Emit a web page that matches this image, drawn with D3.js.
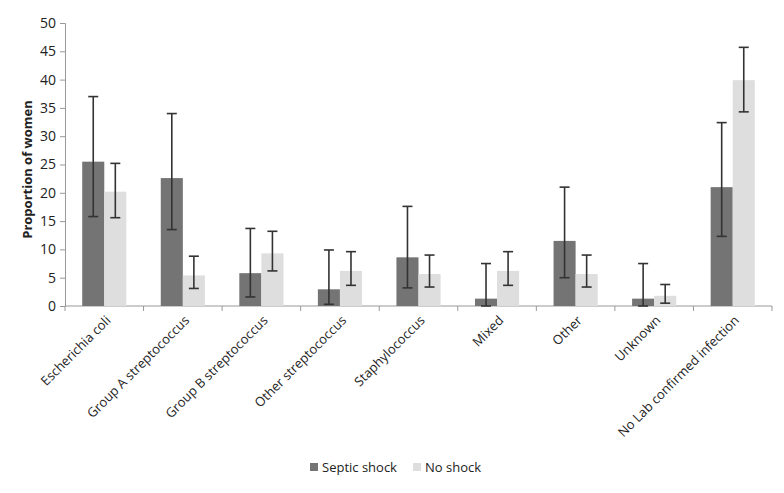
<!DOCTYPE html>
<html>
<head>
<meta charset="utf-8">
<script src="https://cdn.jsdelivr.net/npm/d3@7"></script>
<style>
body { margin: 0; background: #fff; }
text { font-family: "Open Sans", "Liberation Sans", sans-serif; fill: #222; }
</style>
</head>
<body>
<div id="chart"></div>
<script>
// categories and values
var categories = ["Escherichia coli", "Group A streptococcus", "Group B streptococcus",
  "Other streptococcus", "Staphylococcus", "Mixed", "Other", "Unknown", "No Lab confirmed infection"]
var septic = [25.5, 22.6, 5.8, 2.95, 8.6, 1.3, 11.5, 1.3, 21.0]
var septicLow = [15.8, 13.5, 1.6, 0.3, 3.2, 0, 5.0, 0, 12.3]
var septicHigh = [37.0, 34.0, 13.7, 9.9, 17.6, 7.5, 21.0, 7.5, 32.4]
var noShock = [20.2, 5.4, 9.3, 6.2, 5.65, 6.2, 5.65, 1.8, 39.9]
var noShockLow = [15.6, 3.1, 6.2, 3.65, 3.35, 3.65, 3.35, 0.5, 34.3]
var noShockHigh = [25.2, 8.8, 13.2, 9.6, 9.0, 9.6, 9.0, 3.8, 45.7]
var yTicks = [0, 5, 10, 15, 20, 25, 30, 35, 40, 45, 50]
var seriesNames = ["Septic shock", "No shock"]
var colors = ["#747474", "#dedede"]

var width = 784
var height = 493
var margin = {left: 65, right: 12, top: 23, bottom: 187}

var svg = d3.select("#chart").append("svg")
    .attr("width", width)
    .attr("height", height)

var x = d3.scaleBand()
    .domain(categories)
    .range([margin.left, width - margin.right])

var y = d3.scaleLinear()
    .domain([0, 50])
    .range([height - margin.bottom, margin.top])

var inner = d3.scaleBand()
    .domain([0, 1])
    .range([0, x.bandwidth()])
    .paddingInner(0)
    .paddingOuter(0.78)

// y axis
var yAxis = svg.append("g")
    .attr("transform", "translate(" + margin.left + ",0)")
    .call(d3.axisLeft(y).tickValues(yTicks).tickSize(5).tickPadding(4))
yAxis.select(".domain").attr("stroke", "#999")
yAxis.selectAll(".tick line").attr("stroke", "#999")
yAxis.selectAll(".tick text").style("font-size", "14px").attr("fill", "#222")

// x axis: ticks at band boundaries
var xg = svg.append("g")
    .attr("transform", "translate(0," + y(0) + ")")
xg.append("line")
    .attr("x1", margin.left).attr("x2", width - margin.right)
    .attr("stroke", "#999")
var bounds = categories.map(function(d) { return x(d) }).concat([x(categories[categories.length - 1]) + x.bandwidth()])
xg.selectAll(".xt")
    .data(bounds)
    .enter().append("line")
    .attr("x1", function(d) { return d }).attr("x2", function(d) { return d })
    .attr("y1", 0).attr("y2", 5)
    .attr("stroke", "#999")

xg.selectAll(".xl")
    .data(categories)
    .enter().append("text")
    .attr("transform", function(d) {
        return "translate(" + (x(d) + x.bandwidth() / 2 + 4) + ",12) rotate(-45)"
    })
    .attr("text-anchor", "end")
    .attr("dy", "0.35em")
    .style("font-size", "13px")
    .text(function(d) { return d })

// bars
var series = [
    {vals: septic, lo: septicLow, hi: septicHigh},
    {vals: noShock, lo: noShockLow, hi: noShockHigh}
]

series.forEach(function(s, si) {
    svg.append("g").selectAll("rect")
        .data(categories)
        .enter().append("rect")
        .attr("x", function(d) { return x(d) + inner(si) })
        .attr("width", inner.bandwidth())
        .attr("y", function(d, i) { return y(s.vals[i]) })
        .attr("height", function(d, i) { return y(0) - y(s.vals[i]) })
        .attr("fill", colors[si])
})

// error bars drawn on top
series.forEach(function(s, si) {
    var g = svg.append("g").attr("stroke", "#333").attr("stroke-width", 1.6)
    categories.forEach(function(d, i) {
        var cx = x(d) + inner(si) + inner.bandwidth() / 2
        g.append("line")
            .attr("x1", cx).attr("x2", cx)
            .attr("y1", y(s.lo[i])).attr("y2", y(s.hi[i]))
        g.append("line")
            .attr("x1", cx - 5).attr("x2", cx + 5)
            .attr("y1", y(s.hi[i])).attr("y2", y(s.hi[i]))
        g.append("line")
            .attr("x1", cx - 5).attr("x2", cx + 5)
            .attr("y1", y(s.lo[i])).attr("y2", y(s.lo[i]))
    })
})

// y title
svg.append("text")
    .attr("transform", "translate(27," + (margin.top + (y(0) - margin.top) / 2 + 5) + ") rotate(-90)")
    .attr("text-anchor", "middle")
    .attr("dy", "0.35em")
    .style("font-size", "13px")
    .style("font-weight", "bold")
    .text("Proportion of women")

// legend
var legendX = [310, 413]
var legend = svg.append("g")
seriesNames.forEach(function(n, i) {
    legend.append("rect")
        .attr("x", legendX[i]).attr("y", 463)
        .attr("width", 8).attr("height", 8)
        .attr("fill", colors[i])
    legend.append("text")
        .attr("x", legendX[i] + 12).attr("y", 467)
        .attr("dy", "0.35em")
        .style("font-size", "13px")
        .text(n)
})
</script>
</body>
</html>
